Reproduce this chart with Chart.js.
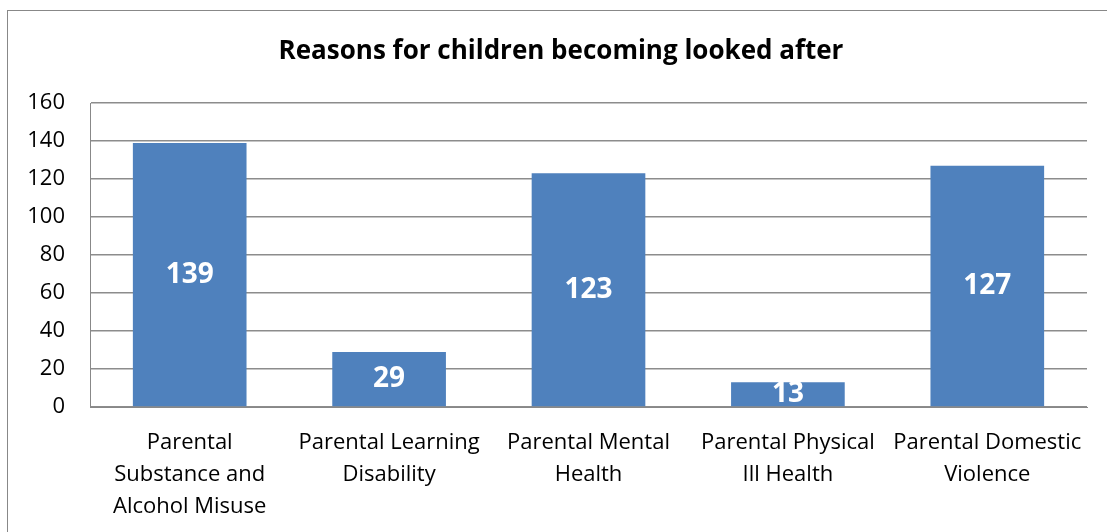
<!DOCTYPE html>
<html>
<head>
<meta charset="utf-8">
<script src="https://cdn.jsdelivr.net/npm/chart.js@4"></script>
<style>
    html, body { margin: 0; padding: 0; background: #fff; }
    #wrap { position: relative; width: 1107px; height: 532px; overflow: hidden; }
    #frame { position: absolute; left: 7px; top: 10px; width: 1200px; height: 600px; border: 1px solid #888; box-sizing: border-box; }
    canvas { position: absolute; left: 0; top: 0; }
</style>
</head>
<body>
<div id="wrap">
    <div id="frame"></div>
    <canvas id="chart" width="1107" height="532"></canvas>
</div>
<script>
const chartTitle = 'Reasons for children becoming looked after';
const categories = [
    ['Parental', 'Substance and', 'Alcohol Misuse'],
    ['Parental Learning', 'Disability'],
    ['Parental Mental', 'Health'],
    ['Parental Physical', 'Ill Health'],
    ['Parental Domestic', 'Violence']
];
const counts = [139, 29, 123, 13, 127];
const yTicks = [0, 20, 40, 60, 80, 100, 120, 140, 160];

const fontFamily = "'Open Sans', 'Noto Sans', sans-serif";

// white bold value label in the middle of each bar
const barLabels = {
    id: 'barLabels',
    afterDatasetsDraw(chart) {
        const ctx = chart.ctx;
        const meta = chart.getDatasetMeta(0);
        ctx.save();
        ctx.fillStyle = '#ffffff';
        ctx.font = 'bold 28px ' + fontFamily;
        ctx.textAlign = 'center';
        ctx.textBaseline = 'middle';
        meta.data.forEach((bar, i) => {
            const mid = (bar.y + bar.base) / 2;
            ctx.fillText(String(counts[i]), bar.x, mid);
        });
        ctx.restore();
    }
};

// title is centred on the outer frame, not the canvas, so draw it by hand
const frameTitle = {
    id: 'frameTitle',
    afterDraw(chart) {
        const ctx = chart.ctx;
        ctx.save();
        ctx.fillStyle = '#000';
        ctx.font = 'bold 26px ' + fontFamily;
        ctx.textAlign = 'center';
        ctx.textBaseline = 'middle';
        ctx.fillText(chartTitle, 561, 52);
        ctx.restore();
    }
};

new Chart(document.getElementById('chart').getContext('2d'), {
    type: 'bar',
    data: {
        labels: categories,
        datasets: [{
            data: counts,
            backgroundColor: '#4F81BD',
            borderWidth: 0,
            categoryPercentage: 1,
            barPercentage: 0.57
        }]
    },
    options: {
        responsive: false,
        animation: false,
        layout: { padding: { left: 0, right: 20, top: 103, bottom: 0 } },
        plugins: {
            legend: { display: false },
            tooltip: { enabled: false },
            title: { display: false }
        },
        scales: {
            x: {
                grid: { display: false, drawTicks: false },
                border: { display: true, color: '#888', width: 1 },
                ticks: {
                    color: '#000',
                    padding: 20,
                    maxRotation: 0,
                    autoSkip: false,
                    font: { family: fontFamily, size: 22, lineHeight: 1.45 }
                },
                afterFit(scale) { scale.height = 125; }
            },
            y: {
                min: 0,
                max: 160,
                afterBuildTicks(scale) { scale.ticks = yTicks.map(v => ({ value: v })); },
                grid: { color: '#8c8c8c', lineWidth: 1.5, drawTicks: false },
                border: { display: true, color: '#888', width: 1 },
                ticks: {
                    color: '#000',
                    padding: 25,
                    font: { family: fontFamily, size: 22 }
                },
                afterFit(scale) { scale.width = 90; }
            }
        }
    },
    plugins: [barLabels, frameTitle]
});
</script>
</body>
</html>
